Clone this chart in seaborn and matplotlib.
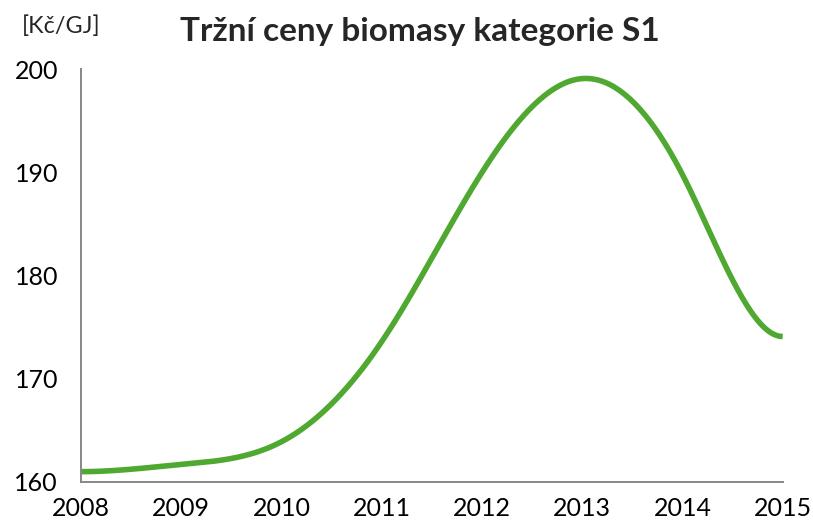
import numpy as np
import pandas as pd
import seaborn as sns
from matplotlib import pyplot as plt

# market prices of biomass category S1 [Kč/GJ]
years = [2008, 2009, 2010, 2011, 2012, 2013, 2014, 2015]
prices = [161.0, 161.7, 163.9, 173.6, 190.0, 199.1, 189.8, 174.1]

title_name = "Tržní ceny biomasy kategorie S1"
unit_label = "[Kč/GJ]"
y_ticks = [160, 170, 180, 190, 200]


def smooth_line(x, y, n=40):
    # smoothed line like in Excel: cubic spline through the yearly points, flat at both ends
    x = np.asarray(x, float)
    y = np.asarray(y, float)
    k = len(x)
    h = np.diff(x)
    A = np.zeros((k, k))
    r = np.zeros(k)
    A[0, 0] = A[-1, -1] = 1          # clamped: zero slope at the ends
    for i in range(1, k - 1):
        A[i, i - 1] = 1 / h[i - 1]
        A[i, i] = 2 / h[i - 1] + 2 / h[i]
        A[i, i + 1] = 1 / h[i]
        r[i] = 3 * ((y[i] - y[i - 1]) / h[i - 1] ** 2 + (y[i + 1] - y[i]) / h[i] ** 2)
    m = np.linalg.solve(A, r)
    xs, ys = [], []
    t = np.linspace(0, 1, n, endpoint=False)
    for i in range(k - 1):
        h00 = 2 * t ** 3 - 3 * t ** 2 + 1
        h10 = t ** 3 - 2 * t ** 2 + t
        h01 = -2 * t ** 3 + 3 * t ** 2
        h11 = t ** 3 - t ** 2
        xs.extend(x[i] + t * h[i])
        ys.extend(h00 * y[i] + h10 * h[i] * m[i] + h01 * y[i + 1] + h11 * h[i] * m[i + 1])
    xs.append(x[-1])
    ys.append(y[-1])
    return np.array(xs), np.array(ys)


sns.set_style("white")
plt.rcParams['font.family'] = ['Lato', 'DejaVu Sans']

sx, sy = smooth_line(years, prices)
df = pd.DataFrame({"year": sx, "price": sy})

fig, ax = plt.subplots(figsize=(8.13, 5.27), dpi=100)
fig.subplots_adjust(left=0.0996, right=0.9627, top=0.8685, bottom=0.0854)

sns.lineplot(data=df, x="year", y="price", ax=ax, color="#4FA82F", linewidth=4.0,
             sort=False, estimator=None, solid_capstyle="butt")

ax.set_xlim(years[0], years[-1])
ax.set_ylim(160, 200)
ax.set_xticks(years)
ax.set_yticks(y_ticks)
ax.set_xlabel("")
ax.set_ylabel("")

for s in ["top", "right"]:
    ax.spines[s].set_visible(False)
for s in ["left", "bottom"]:
    ax.spines[s].set_color("#878787")
    ax.spines[s].set_linewidth(1.4)
ax.tick_params(axis="both", direction="out", width=1.4, color="#878787",
               labelsize=18, labelcolor="black")
ax.tick_params(axis="y", length=6.5, pad=10)
ax.tick_params(axis="x", length=5, pad=6)

fig.text(0.517, 0.922, title_name, ha="center", va="baseline", fontsize=24, fontweight="bold")
fig.text(0.075, 0.937, unit_label, ha="center", va="baseline", fontsize=16.8)

plt.savefig("out.png", dpi=100)
